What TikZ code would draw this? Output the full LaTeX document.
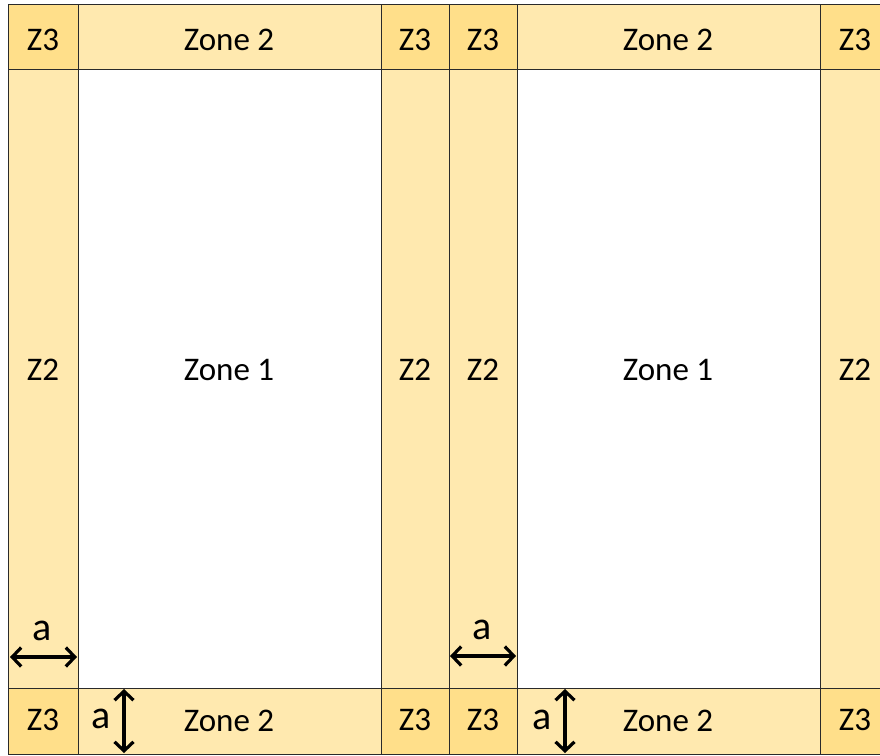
\documentclass[tikz,border=0pt]{standalone}
\usepackage{fontspec}
\setmainfont{Carlito}
\usetikzlibrary{arrows.meta}
\definecolor{zthree}{HTML}{FFDF8A}
\definecolor{ztwo}{HTML}{FFE9AF}
\definecolor{gridc}{HTML}{2A2A2A}
\tikzset{
  lbl/.style={inner sep=0pt, font=\fontsize{33}{38}\selectfont, text=black},
  dimlbl/.style={inner sep=0pt, font=\fontsize{40}{44}\selectfont, text=black},
  dimarrow/.style={line width=3.2pt, {Straight Barb[length=9pt,width=19pt,line width=3.2pt]}-{Straight Barb[length=9pt,width=19pt,line width=3.2pt]}},
  gridline/.style={draw=gridc, line width=1pt}
}
\begin{document}
\begin{tikzpicture}[x=1pt,y=-1pt]
\useasboundingbox (0,0) rectangle (880,755);
% fills
\fill[ztwo] (8,4) rectangle (890,754);
\fill[white] (78,69) rectangle (381,688);
\fill[white] (517,69) rectangle (820,688);
\foreach \xa/\xb in {8/78,381/449,449/517,820/890}{
  \fill[zthree] (\xa,4) rectangle (\xb,69);
  \fill[zthree] (\xa,688) rectangle (\xb,754);
}
% grid
\foreach \xx in {8,78,381,449,517,820}{
  \draw[gridline] (\xx,4) -- (\xx,754);
}
\foreach \yy in {4,69,688,754}{
  \draw[gridline] (8,\yy) -- (890,\yy);
}
% labels top row
\node[lbl] (t1) at (43,40) {Z3};
\node[lbl] (t2) at (229,40) {Zone 2};
\node[lbl] (t3) at (415,40) {Z3};
\node[lbl] (t4) at (483,40) {Z3};
\node[lbl] (t5) at (668,40) {Zone 2};
\node[lbl] (t6) at (855,40) {Z3};
% middle row
\node[lbl] (m1) at (43,370) {Z2};
\node[lbl] (m2) at (229,370) {Zone 1};
\node[lbl] (m3) at (415,370) {Z2};
\node[lbl] (m4) at (483,370) {Z2};
\node[lbl] (m5) at (668,370) {Zone 1};
\node[lbl] (m6) at (855,370) {Z2};
% bottom row
\node[lbl] (b1) at (43,720) {Z3};
\node[lbl] (b2) at (229,721) {Zone 2};
\node[lbl] (b3) at (415,720) {Z3};
\node[lbl] (b4) at (483,720) {Z3};
\node[lbl] (b5) at (668,721) {Zone 2};
\node[lbl] (b6) at (855,720) {Z3};
% dimension arrows
\coordinate (h1a) at (10,657);
\coordinate (h1b) at (77,657);
\draw[dimarrow] (h1a) -- (h1b);
\node[dimlbl] (ha1) at (42,631) {a};
\coordinate (h2a) at (450,656);
\coordinate (h2b) at (516,656);
\draw[dimarrow] (h2a) -- (h2b);
\node[dimlbl] (ha2) at (482,630) {a};
\coordinate (v1a) at (124,689);
\coordinate (v1b) at (124,753);
\draw[dimarrow] (v1a) -- (v1b);
\node[dimlbl] (va1) at (101,719) {a};
\coordinate (v2a) at (565,689);
\coordinate (v2b) at (565,753);
\draw[dimarrow] (v2a) -- (v2b);
\node[dimlbl] (va2) at (542,720) {a};
\end{tikzpicture}
\end{document}
